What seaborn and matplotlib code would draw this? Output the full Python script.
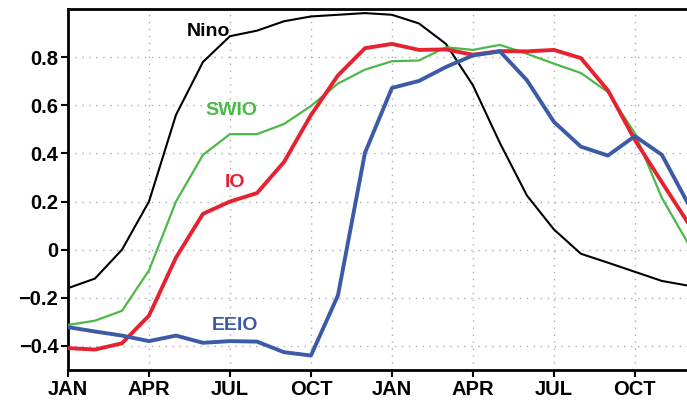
import matplotlib
matplotlib.use("Agg")
import matplotlib.pyplot as plt
import seaborn as sns
import pandas as pd
import numpy as np

months = list(range(24))
month_labels = ["JAN", "APR", "JUL", "OCT", "JAN", "APR", "JUL", "OCT"]
month_ticks = [0, 3, 6, 9, 12, 15, 18, 21]
ytick_vals = [-0.4, -0.2, 0, 0.2, 0.4, 0.6, 0.8]
ytick_labels = ["\u22120.4", "\u22120.2", "0", "0.2", "0.4", "0.6", "0.8"]

nino = [-0.16, -0.12, 0.00, 0.20, 0.56, 0.78, 0.887, 0.91, 0.949, 0.969, 0.976, 0.983,
        0.976, 0.94, 0.855, 0.683, 0.443, 0.225, 0.084, -0.017, -0.054, -0.092, -0.13, -0.15]
io = [-0.409, -0.415, -0.389, -0.274, -0.033, 0.149, 0.20, 0.235, 0.364, 0.559, 0.724, 0.837,
      0.855, 0.83, 0.832, 0.81, 0.825, 0.824, 0.83, 0.796, 0.662, 0.456, 0.28, 0.106]
swio = [-0.313, -0.295, -0.254, -0.086, 0.20, 0.394, 0.48, 0.48, 0.522, 0.597, 0.69, 0.748,
        0.783, 0.786, 0.841, 0.83, 0.851, 0.814, 0.773, 0.734, 0.655, 0.483, 0.215, 0.02]
eeio = [-0.322, -0.34, -0.357, -0.38, -0.357, -0.387, -0.38, -0.382, -0.426, -0.44, -0.19, 0.402,
        0.672, 0.701, 0.759, 0.807, 0.824, 0.704, 0.531, 0.428, 0.391, 0.472, 0.394, 0.185]

series_names = ["Nino", "SWIO", "IO", "EEIO"]
series_vals = [nino, swio, io, eeio]
colors = {"Nino": "#000000", "SWIO": "#4cb848", "IO": "#e52330", "EEIO": "#3c5aa6"}
widths = {"Nino": 1.5, "SWIO": 1.6, "IO": 2.8, "EEIO": 2.8}
label_pos = {"Nino": (5.19, 0.906), "SWIO": (6.04, 0.58), "IO": (6.19, 0.278), "EEIO": (6.19, -0.317)}

sns.set_theme(style="white")
plt.rcParams['font.family'] = ['Liberation Sans', 'DejaVu Sans']

fig = plt.figure(figsize=(6.87, 4.01), dpi=100)
ax = fig.add_axes([68/687, 1 - 370/401, 1 - 68/687, (370 - 9)/401])

for name, vals in zip(series_names, series_vals):
    df = pd.DataFrame({"month": months, "value": vals})
    sns.lineplot(data=df, x="month", y="value", ax=ax, color=colors[name],
                 linewidth=widths[name], zorder=3)
    tx, ty = label_pos[name]
    ax.text(tx, ty, name, color=colors[name], fontsize=14, fontweight="bold",
            ha="center", va="center", zorder=4)

ax.set_xlim(0, 22.93)
ax.set_ylim(-0.5, 1.0)
ax.set_xticks(month_ticks)
ax.set_xticklabels(month_labels)
ax.set_yticks(ytick_vals)
ax.set_yticklabels(ytick_labels)
ax.set_xlabel("")
ax.set_ylabel("")
for lab in ax.get_xticklabels() + ax.get_yticklabels():
    lab.set_fontweight("bold")
    lab.set_fontsize(14.5)
    lab.set_color("black")
ax.tick_params(axis="both", direction="out", length=5, width=1.5, color="black",
               bottom=True, left=True, pad=2)
ax.grid(True, linestyle=(0, (1, 4)), color="#aaaaaa", linewidth=1.0)
for side in ["left", "bottom", "top"]:
    ax.spines[side].set_visible(True)
    ax.spines[side].set_color("black")
    ax.spines[side].set_linewidth(2.0)
ax.spines["right"].set_visible(False)

fig.savefig("out.png", dpi=100)
